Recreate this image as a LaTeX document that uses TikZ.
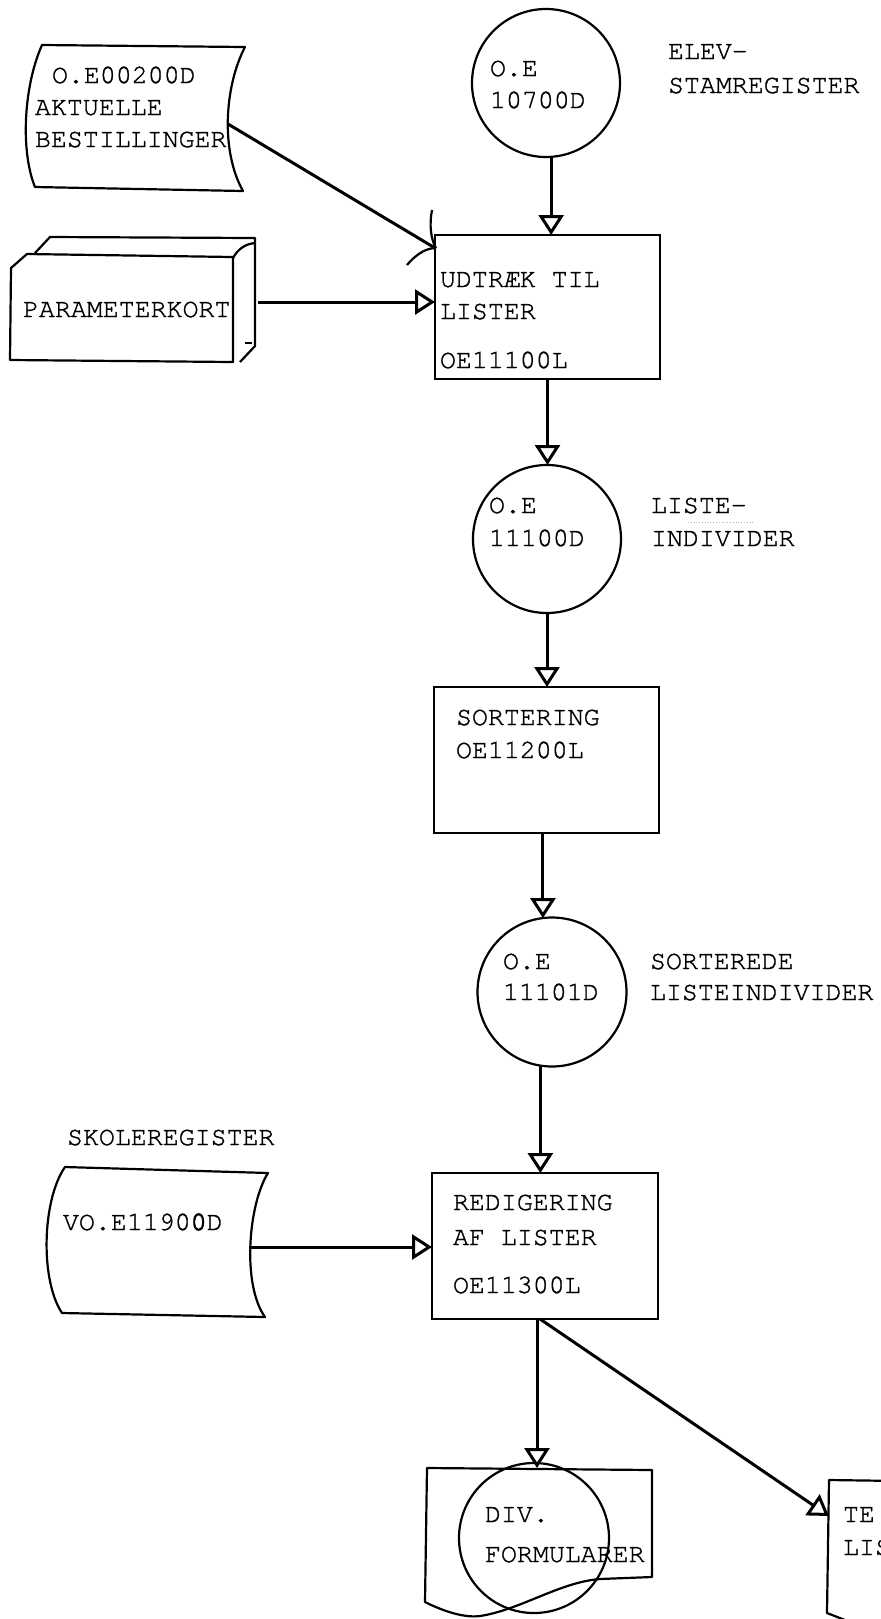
\documentclass[tikz,border=0pt]{standalone}
\usepackage{fontspec}
\newfontfamily\typefont{TeX Gyre Cursor}[FakeBold=1.2]
\usetikzlibrary{arrows.meta,calc}
\tikzset{
  box/.style={draw, line width=1.1pt, inner sep=0pt, outer sep=0pt},
  disk/.style={draw, circle, line width=1.1pt, minimum size=74pt, inner sep=0pt, outer sep=0pt},
  txt/.style={anchor=base west, inner sep=0pt, outer sep=0pt, font=\typefont\fontsize{13.3pt}{16pt}\selectfont},
  flow/.style={line width=1.5pt, -{Triangle[open, length=10pt, width=12.5pt]}},
  plainflow/.style={line width=1.5pt},
  outline/.style={line width=1.1pt, line join=round},
}
\begin{document}
\begin{tikzpicture}[x=0.5pt, y=-0.5pt]
\useasboundingbox (0,0) rectangle (881,1619);

% ---------- top: data store O.E00200D ----------
\draw[outline] (42,45) -- (245,47) .. controls (225,85) and (220,150) .. (243,191)
  -- (35,187) .. controls (20,150) and (24,85) .. (42,45) -- cycle;
\coordinate (s1r) at (228,124);
\node[txt] (t1a) at (52,83) {O.E00200D};
\node[txt] (t1b) at (35,115) {AKTUELLE};
\node[txt] (t1c) at (35,147) {BESTILLINGER};

% ---------- card deck PARAMETERKORT ----------
\draw[outline] (35,253) -- (50,237) -- (255,238) -- (255,346) -- (240,362);
\draw[outline] (233,258) .. controls (238,249) and (245,244) .. (255,243);
\draw[outline] (245,343) -- (252,343);
\draw[outline] (11,268) -- (27,254) -- (233,257) -- (233,362) -- (10,360) -- cycle;
\coordinate (pkr) at (258,302);
\node[txt] (t2) at (23,317) {PARAMETERKORT};

% ---------- circle O.E 10700D ----------
\node[disk] (c1) at (546,83) {};
\node[txt] (c1a) at (490,76) {O.E};
\node[txt] (c1b) at (490,108) {10700D};
\node[txt] (l1a) at (668,59) {ELEV-};
\node[txt] (l1b) at (668,93) {STAMREGISTER};

% ---------- box UDTRAEK ----------
\node[box, minimum width=112.5pt, minimum height=72pt] (bA) at (547.5,307) {};
\node[txt] (bA1) at (440,287) {UDTRÆK TIL};
\node[txt] (bA2) at (440,319) {LISTER};
\node[txt] (bA3) at (440,368) {OE11100L};

% ---------- circle O.E 11100D ----------
\node[disk] (c2) at (547,539) {};
\node[txt] (c2a) at (489,513) {O.E};
\node[txt] (c2b) at (489,546) {11100D};
\node[txt] (l2a) at (651,513) {LISTE-};
\node[txt] (l2b) at (651,546) {INDIVIDER};
\draw[gray!60, densely dotted, line width=0.4pt] (688,522) -- (755,522);

% ---------- box SORTERING ----------
\node[box, minimum width=112.5pt, minimum height=73pt] (bB) at (546.5,760) {};
\node[txt] (bB1) at (456,725) {SORTERING};
\node[txt] (bB2) at (456,758) {OE11200L};

% ---------- circle O.E 11101D ----------
\node[disk, minimum size=74.5pt] (c3) at (552,992) {};
\node[txt] (c3a) at (503,969) {O.E};
\node[txt] (c3b) at (503,1000) {11101D};
\node[txt] (l3a) at (650,969) {SORTEREDE};
\node[txt] (l3b) at (650,1000) {LISTEINDIVIDER};

% ---------- SKOLEREGISTER data store ----------
\node[txt] (l4) at (67,1145) {SKOLEREGISTER};
\draw[outline] (65,1167) -- (268,1173) .. controls (248,1205) and (242,1285) .. (265,1317)
  -- (62,1313) .. controls (40,1280) and (42,1200) .. (65,1167) -- cycle;
\coordinate (skr) at (250,1247);
\node[txt] (t4) at (63,1230) {VO.E1190{\addfontfeature{FakeBold=3}0}D};

% ---------- box REDIGERING ----------
\node[box, minimum width=113pt, minimum height=73pt] (bC) at (545,1246) {};
\node[txt] (bC1) at (453,1210) {REDIGERING};
\node[txt] (bC2) at (453,1245) {AF LISTER};
\node[txt] (bC3) at (453,1293) {OE11300L};

% ---------- DIV. FORMULARER ----------
\draw[outline] (427,1468) -- (652,1470) -- (652,1577) -- (600,1579)
  .. controls (560,1582) and (520,1610) .. (480,1616)
  .. controls (465,1618) and (445,1612) .. (425,1602) -- cycle;
\node[disk, minimum size=75pt] (c4) at (534,1538) {};
\coordinate (divtop) at (537,1468);
\node[txt] (c4a) at (485,1522) {DIV.};
\node[txt] (c4b) at (485,1562) {FORMULARER};

% ---------- TE... LIS... document (cut off) ----------
\draw[outline] (900,1481) -- (829,1480) -- (827,1613) -- (845,1620);
\coordinate (tetip) at (829,1516);
\node[txt] (t5a) at (843,1522) {TE};
\node[txt] (t5b) at (843,1555) {LIS};

% ---------- connectors ----------
\draw[plainflow] (s1r) -- ($(bA.north west)+(0,13)$);
\draw[outline] (407,265) .. controls (418,252) and (428,248) .. (436,248);
\draw[outline] (432,210) .. controls (429,225) and (431,240) .. (436,248);
\draw[flow] (pkr) -- (pkr -| bA.west);
\draw[flow] (c1.274) -- (c1.274 |- bA.north);
\draw[flow] (bA.south) -- (bA.south |- c2.north);
\draw[flow] (c2.south) -- (c2.south |- bB.north);
\draw[flow] (c3.97 |- bB.south) -- (c3.97);
\draw[flow] (c3.261) -- (c3.261 |- bC.north);
\draw[flow] (skr) -- (skr -| bC.west);
\draw[flow] (bC.south -| divtop) -- (divtop);
\draw[flow] ($(bC.south)+(-5,0)$) -- (tetip);
\end{tikzpicture}
\end{document}
